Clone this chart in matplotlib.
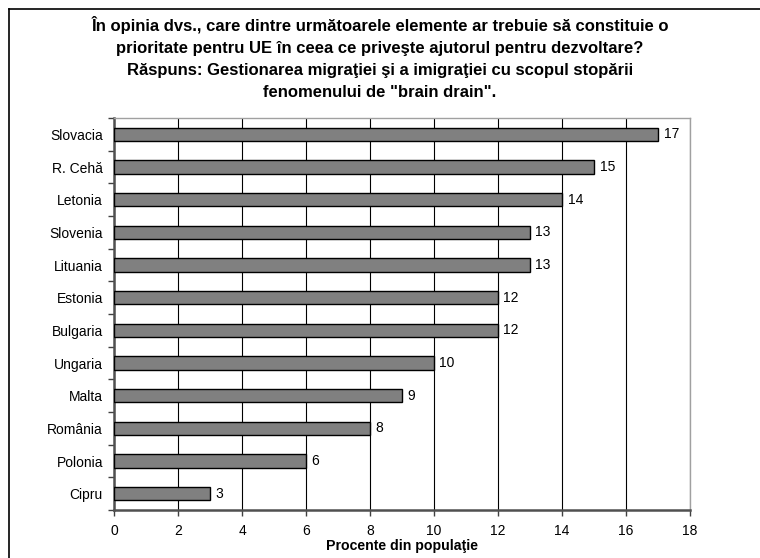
import matplotlib
matplotlib.use('Agg')
import matplotlib.pyplot as plt
from matplotlib.lines import Line2D
import numpy as np

plt.rcParams['font.family'] = ['Liberation Sans', 'DejaVu Sans']

# date
tari = ['Slovacia', 'R. Cehă', 'Letonia', 'Slovenia', 'Lituania', 'Estonia',
        'Bulgaria', 'Ungaria', 'Malta', 'România', 'Polonia', 'Cipru']
procente = [17, 15, 14, 13, 13, 12, 12, 10, 9, 8, 6, 3]
x_ticks = list(range(0, 19, 2))

titlu = ('În opinia dvs., care dintre următoarele elemente ar trebuie să constituie o\n'
         'prioritate pentru UE în ceea ce priveşte ajutorul pentru dezvoltare?\n'
         'Răspuns: Gestionarea migraţiei şi a imigraţiei cu scopul stopării\n'
         'fenomenului de "brain drain".')

fig = plt.figure(figsize=(7.6, 5.58), dpi=100)
ax = fig.add_axes([0.15, 0.086, 0.758, 0.7025])

y = np.arange(len(tari))[::-1]
ax.barh(y, procente, height=0.4, color='#808080', edgecolor='black', linewidth=1, zorder=3)
for yi, v in zip(y, procente):
    ax.text(v + 0.17, yi, str(v), va='center', ha='left', fontsize=10, zorder=4)

ax.set_xlim(0, 18)
ax.set_ylim(-0.5, len(tari) - 0.5)
ax.set_xticks(x_ticks)
ax.set_yticks(y)
ax.set_yticklabels(tari, fontsize=10)
ax.set_yticks(np.arange(-0.5, len(tari), 1), minor=True)
ax.tick_params(axis='y', which='major', length=0, pad=8)
ax.tick_params(axis='y', which='minor', length=4, width=1, color='#404040', direction='out')
ax.tick_params(axis='x', labelsize=10, length=4, width=1, color='#404040', pad=6)
ax.grid(axis='x', color='black', linewidth=0.8, zorder=1)
ax.set_axisbelow(True)

for s in ['top', 'right']:
    ax.spines[s].set_color('#a0a0a0')
    ax.spines[s].set_linewidth(1)
for s in ['left', 'bottom']:
    ax.spines[s].set_color('#505050')
    ax.spines[s].set_linewidth(1.8)

ax.set_xlabel('Procente din populaţie', fontsize=10.2, fontweight='bold', labelpad=1)

fig.text(0.5, 0.972, titlu, ha='center', va='top', fontsize=12, fontweight='bold',
         linespacing=1.6)

# chenarul din jurul graficului
fig.add_artist(Line2D([9 / 760, 1], [1 - 9 / 558, 1 - 9 / 558], color='black', lw=1.2,
                      transform=fig.transFigure))
fig.add_artist(Line2D([9 / 760, 9 / 760], [0, 1 - 9 / 558], color='black', lw=1.2,
                      transform=fig.transFigure))

fig.savefig('out.png', dpi=100)
